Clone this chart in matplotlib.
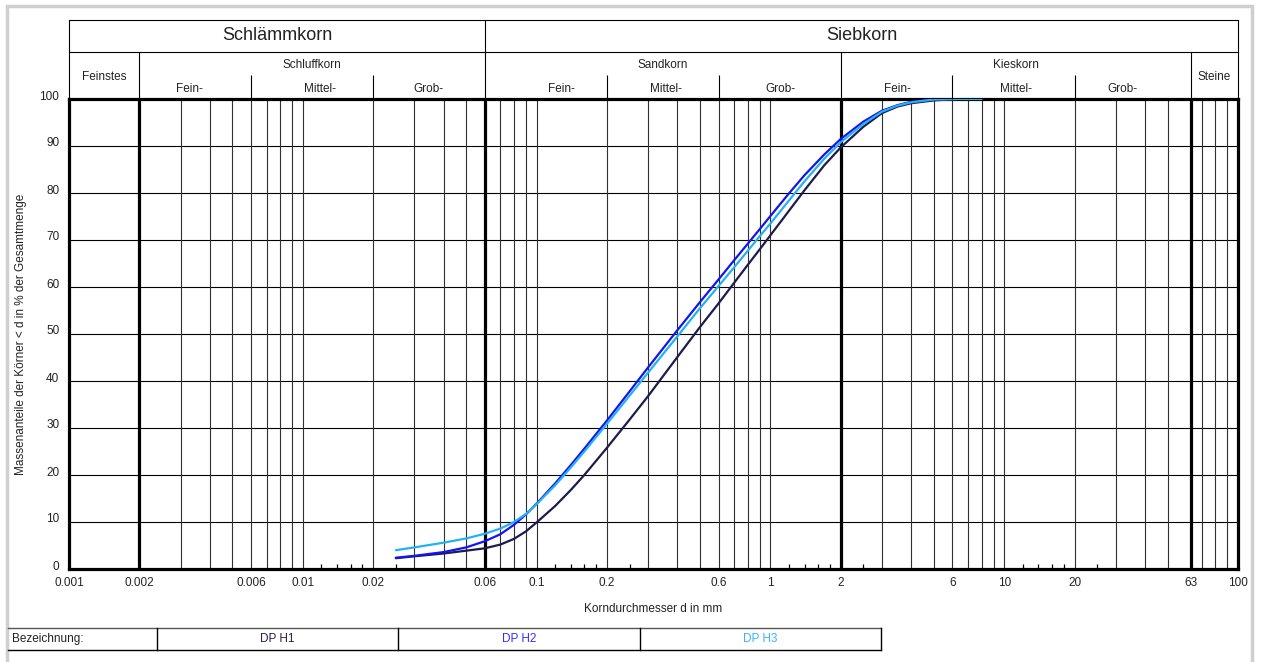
import matplotlib
matplotlib.use("Agg")
import matplotlib.pyplot as plt
import matplotlib.transforms as mtransforms
from matplotlib.lines import Line2D
from matplotlib.patches import Rectangle
from matplotlib.ticker import FixedLocator, NullFormatter

plt.rcParams['font.family'] = ['Liberation Sans', 'DejaVu Sans']

# ---- grading data: grain diameter d in mm, mass passing in % ----
sieve_mm = [0.025, 0.03, 0.04, 0.05, 0.06, 0.07, 0.08, 0.09, 0.1, 0.12, 0.14,
            0.16, 0.2, 0.25, 0.3, 0.4, 0.5, 0.6, 0.7, 0.8, 0.9, 1.0, 1.2, 1.4,
            1.7, 2.0, 2.5, 3.0, 3.5, 4.0, 5.0, 6.3]
sieve_mm_h3 = sieve_mm + [8.0]

passing_h1 = [2.3, 2.7, 3.3, 3.9, 4.4, 5.2, 6.4, 8.0, 9.9, 13.4, 16.8,
              20.0, 25.8, 31.8, 36.8, 45.1, 51.5, 56.5, 60.9, 64.7, 68.0, 71.0, 76.2, 80.6,
              85.9, 89.7, 94.1, 97.0, 98.4, 99.1, 99.7, 100.0]
passing_h2 = [2.4, 2.8, 3.6, 4.6, 5.9, 7.4, 9.4, 11.6, 13.9, 18.2, 22.1,
              25.6, 31.6, 37.8, 42.9, 50.8, 56.8, 61.6, 65.7, 69.2, 72.3, 75.1, 79.9, 83.8,
              88.2, 91.5, 95.2, 97.5, 98.7, 99.4, 99.9, 100.0]
passing_h3 = [4.0, 4.6, 5.6, 6.5, 7.5, 8.6, 10.0, 11.7, 13.8, 17.8, 21.6,
              25.0, 30.9, 36.9, 41.8, 49.5, 55.5, 60.2, 64.2, 67.7, 70.8, 73.5, 78.4, 82.5,
              87.3, 90.8, 94.7, 97.3, 98.6, 99.3, 99.9, 100.0, 100.0]

sample_names = ["DP H1", "DP H2", "DP H3"]
sample_colors = ["#1c1c4e", "#1414f0", "#22b2f2"]
label_colors = ["#2a1a50", "#3a2aff", "#33b8f8"]

# ---- axis ticks ----
x_tick_values = [0.001, 0.002, 0.006, 0.01, 0.02, 0.06, 0.1, 0.2, 0.6, 1, 2, 6,
                 10, 20, 63, 100]
x_tick_labels = ["0.001", "0.002", "0.006", "0.01", "0.02", "0.06", "0.1", "0.2",
                 "0.6", "1", "2", "6", "10", "20", "63", "100"]
y_tick_values = list(range(0, 101, 10))

# grid: thin full-height lines, heavy class boundaries, short ticks
thin_lines = [0.003, 0.004, 0.005, 0.006, 0.007, 0.008, 0.009, 0.01,
              0.02, 0.03, 0.04, 0.05, 0.07, 0.08, 0.09, 0.1,
              0.2, 0.3, 0.4, 0.5, 0.6, 0.7, 0.8, 0.9, 1.0,
              3, 4, 5, 6, 7, 8, 9, 10, 20, 30, 40, 50, 70, 80, 90]
heavy_lines = [0.002, 0.06, 2, 63]
short_ticks = [0.012, 0.014, 0.016, 0.018, 0.025,
               0.12, 0.14, 0.16, 0.18, 0.25,
               1.2, 1.4, 1.6, 1.8, 2.5,
               12, 14, 16, 18, 25]

W, H = 1264, 662
fig = plt.figure(figsize=(W / 100, H / 100), dpi=100)
fig.patch.set_facecolor("white")


def fx(px):
    return px / W


def fy(py):
    return 1 - py / H


X0, X1, Y_TOP, Y_BOT, Y_HDR = 69, 1238, 99, 569, 20
ax = fig.add_axes([fx(X0), fy(Y_BOT), fx(X1) - fx(X0), fy(Y_TOP) - fy(Y_BOT)])
ax.set_xscale("log")
ax.set_xlim(0.001, 100)
ax.set_ylim(0, 100)

for v in y_tick_values[1:-1]:
    ax.axhline(v, color="black", lw=0.8, zorder=1)
for v in thin_lines:
    ax.axvline(v, color="#303030", lw=0.8, zorder=1)
for v in heavy_lines:
    ax.axvline(v, color="black", lw=2.3, zorder=2)

for sp in ax.spines.values():
    sp.set_linewidth(2.3)
    sp.set_color("black")

ax.xaxis.set_major_locator(FixedLocator(x_tick_values))
ax.set_xticklabels(x_tick_labels)
ax.xaxis.set_minor_locator(FixedLocator(short_ticks))
ax.xaxis.set_minor_formatter(NullFormatter())
ax.tick_params(axis="x", which="major", length=0, pad=6, labelsize=8.5,
               labelcolor="#222222")
ax.tick_params(axis="x", which="minor", direction="in", length=3.5, width=0.9,
               color="black")
ax.set_yticks(y_tick_values)
ax.tick_params(axis="y", length=0, pad=7, labelsize=8.5, labelcolor="#222222")
shift = mtransforms.ScaledTranslation(0, 0.04, fig.dpi_scale_trans)
for lab in ax.get_yticklabels():
    lab.set_transform(lab.get_transform() + shift)

ax.set_xlabel("Korndurchmesser d in mm", fontsize=8.5, color="#222222", labelpad=10)
ax.set_ylabel("Massenanteile der Körner < d in % der Gesamtmenge", fontsize=8.5,
              color="#222222")
ax.yaxis.set_label_coords((27 - X0) / (X1 - X0), 0.5)

for d, p, c in zip([sieve_mm, sieve_mm, sieve_mm_h3],
                   [passing_h1, passing_h2, passing_h3], sample_colors):
    ax.plot(d, p, color=c, lw=1.6, solid_capstyle="round",
            solid_joinstyle="round", zorder=4)

# ---- header with soil class names ----
hdr = fig.add_axes([fx(X0), fy(Y_TOP), fx(X1) - fx(X0), fy(Y_HDR) - fy(Y_TOP)])
hdr.set_xscale("log")
hdr.set_xlim(0.001, 100)
hdr.set_ylim(0, 1)
hdr.axis("off")
row1 = (Y_TOP - 52) / (Y_TOP - Y_HDR)
row2 = (Y_TOP - 75) / (Y_TOP - Y_HDR)
lk = dict(color="black", lw=0.8, clip_on=False)
hdr.plot([0.001, 100], [1, 1], **lk)
hdr.plot([0.001, 100], [row1, row1], **lk)
hdr.vlines([0.001, 0.06, 100], 0, 1, **lk)
hdr.vlines([0.002, 2, 63], 0, row1, **lk)
hdr.vlines([0.006, 0.02, 0.2, 0.6, 6, 20], 0, row2, **lk)

tk = dict(ha="center", va="center", color="#222222")
hdr.text((0.001 * 0.06) ** 0.5, (1 + row1) / 2, "Schlämmkorn", fontsize=13, **tk)
hdr.text((0.06 * 100) ** 0.5, (1 + row1) / 2, "Siebkorn", fontsize=13, **tk)
hdr.text((0.001 * 0.002) ** 0.5, 0.28, "Feinstes", fontsize=8.5, **tk)
hdr.text((63 * 100) ** 0.5, 0.28, "Steine", fontsize=8.5, **tk)
for x, s in [((0.002 * 0.06) ** 0.5, "Schluffkorn"),
             ((0.06 * 2) ** 0.5, "Sandkorn"),
             ((2 * 63) ** 0.5, "Kieskorn")]:
    hdr.text(x, 0.43, s, fontsize=8.5, **tk)
for x, s in [(0.00329, "Fein-"), (0.0118, "Mittel-"), (0.0343, "Grob-"),
             (0.128, "Fein-"), (0.358, "Mittel-"), (1.10, "Grob-"),
             (3.48, "Fein-"), (11.2, "Mittel-"), (31.9, "Grob-")]:
    hdr.text(x, 0.125, s, fontsize=8.5, **tk)

# ---- sample legend table ----
t_top, t_bot = 628, 650
fig.add_artist(Line2D([fx(8), fx(881)], [fy(t_top), fy(t_top)], color="#555555", lw=1.0))
fig.add_artist(Line2D([fx(8), fx(881)], [fy(t_bot), fy(t_bot)], color="black", lw=1.0))
for xc in [157, 398, 640, 881]:
    fig.add_artist(Line2D([fx(xc), fx(xc)], [fy(t_top), fy(t_bot)], color="black", lw=1.0))
ty = fy((t_top + t_bot) / 2)
fig.text(fx(12), ty, "Bezeichnung:", fontsize=8.5, color="#222222", ha="left", va="center")
for (xa, xb), name, c in zip([(157, 398), (398, 640), (640, 881)], sample_names,
                             label_colors):
    fig.text(fx((xa + xb) / 2), ty, name, fontsize=8.5, color=c, ha="center", va="center")

# page frame
fig.add_artist(Rectangle((fx(7), -0.2), fx(1252) - fx(7), fy(6) + 0.2, fill=False,
                         edgecolor="#cfcfcf", lw=2.5, transform=fig.transFigure))

fig.savefig("out.png", dpi=100, facecolor="white")
